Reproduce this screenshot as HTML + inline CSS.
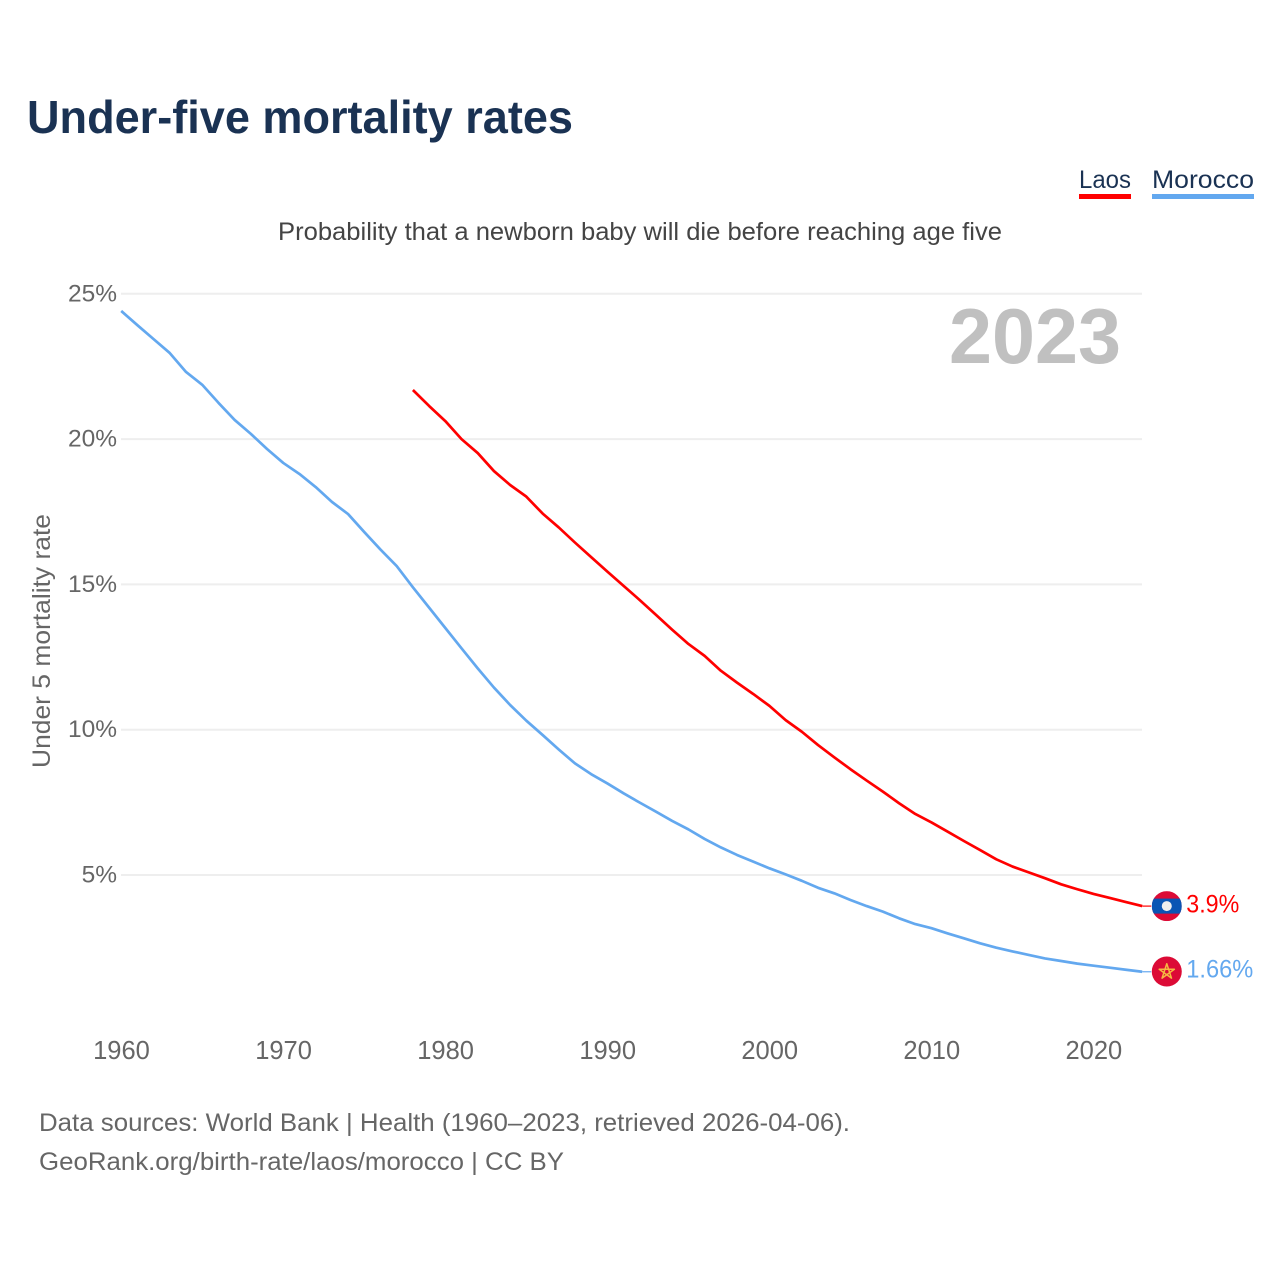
<!DOCTYPE html>
<html lang="en">
<head>
<meta charset="utf-8">
<title>Under-five mortality rates</title>
<style>
html,body{margin:0;padding:0;background:#fff}
svg{display:block}
text{font-family:"Liberation Sans",sans-serif}
</style>
</head>
<body>
<svg id="chart" xmlns="http://www.w3.org/2000/svg" width="1280" height="1280" viewBox="0 0 1280 1280">
<rect width="1280" height="1280" fill="#fff"/>
<text x="27" y="133" font-size="46" font-weight="700" fill="#1a3253" textLength="546" lengthAdjust="spacingAndGlyphs">Under-five mortality rates</text>
<g>
<g>
<text x="1079" y="188" font-size="25" fill="#1a3253" textLength="52" lengthAdjust="spacingAndGlyphs">Laos</text>
<rect x="1079" y="194" width="52" height="5" fill="#ff0000"/>
</g>
<g>
<text x="1152" y="188" font-size="25" fill="#1a3253" textLength="102" lengthAdjust="spacingAndGlyphs">Morocco</text>
<rect x="1152" y="194" width="102" height="5" fill="#63a8ef"/>
</g>
</g>
<text x="278" y="240" font-size="25" fill="#444" textLength="724" lengthAdjust="spacingAndGlyphs">Probability that a newborn baby will die before reaching age five</text>
<g id="grid"></g>
<g id="yaxis"></g>
<g id="xaxis"></g>
<text transform="translate(50,768) rotate(-90)" font-size="25" fill="#666" textLength="254" lengthAdjust="spacingAndGlyphs">Under 5 mortality rate</text>
<text x="949" y="363" font-size="78" font-weight="700" fill="#c0c0c0" textLength="172" lengthAdjust="spacingAndGlyphs">2023</text>
<g id="series"></g>
<g id="flags"></g>
<text x="39" y="1131" font-size="25" fill="#666" textLength="811" lengthAdjust="spacingAndGlyphs">Data sources: World Bank | Health (1960–2023, retrieved 2026-04-06).</text>
<text x="39" y="1170" font-size="25" fill="#666" textLength="525" lengthAdjust="spacingAndGlyphs">GeoRank.org/birth-rate/laos/morocco | CC BY</text>
</svg>
<script>
var years = [1960,1961,1962,1963,1964,1965,1966,1967,1968,1969,1970,1971,1972,1973,1974,1975,1976,1977,1978,1979,1980,1981,1982,1983,1984,1985,1986,1987,1988,1989,1990,1991,1992,1993,1994,1995,1996,1997,1998,1999,2000,2001,2002,2003,2004,2005,2006,2007,2008,2009,2010,2011,2012,2013,2014,2015,2016,2017,2018,2019,2020,2021,2022,2023];
var moroccoValues = [24.41,23.92,23.44,22.96,22.31,21.87,21.25,20.66,20.18,19.66,19.18,18.8,18.35,17.84,17.42,16.8,16.2,15.63,14.9,14.2,13.5,12.8,12.11,11.45,10.85,10.31,9.82,9.32,8.84,8.47,8.15,7.81,7.49,7.18,6.86,6.57,6.24,5.95,5.69,5.46,5.23,5.02,4.8,4.56,4.37,4.14,3.93,3.74,3.51,3.31,3.17,2.99,2.82,2.65,2.5,2.37,2.25,2.13,2.04,1.95,1.88,1.81,1.74,1.67];
var laosValues = [null,null,null,null,null,null,null,null,null,null,null,null,null,null,null,null,null,null,21.69,21.14,20.62,20.0,19.52,18.9,18.42,18.02,17.44,16.96,16.44,15.94,15.44,14.95,14.46,13.95,13.44,12.95,12.54,12.03,11.62,11.23,10.82,10.33,9.93,9.47,9.05,8.64,8.25,7.87,7.47,7.1,6.81,6.49,6.17,5.86,5.54,5.29,5.09,4.89,4.68,4.51,4.35,4.21,4.07,3.93];
var xTickYears = [1960,1970,1980,1990,2000,2010,2020];
var yTickValues = [5,10,15,20,25];
var laosLabel = '3.9%';
var moroccoLabel = '1.66%';

var NS = 'http://www.w3.org/2000/svg';
function xScale(year){ return 121.2 + (year - 1960) * 16.206; }
function yScale(v){ return 1020.3 - v * 29.06; }
function make(parent, tag, attrs, text){
  var el = document.createElementNS(NS, tag);
  for (var k in attrs) el.setAttribute(k, attrs[k]);
  if (text !== undefined) el.textContent = text;
  parent.appendChild(el);
  return el;
}
var grid = document.getElementById('grid');
var yaxis = document.getElementById('yaxis');
var xaxis = document.getElementById('xaxis');
var series = document.getElementById('series');
var flags = document.getElementById('flags');

yTickValues.forEach(function(v){
  var line = make(grid, 'line', {x1:121, x2:1142, y1:yScale(v), y2:yScale(v), stroke:'#eeeeee', 'stroke-width':2});
  
  
  var t = make(yaxis, 'text', {x:117, y:yScale(v)+7.5, 'text-anchor':'end', 'font-size':24.5, fill:'#666'}, v + '%');
  
  
});
xTickYears.forEach(function(y){
  var t = make(xaxis, 'text', {x:xScale(y)+0.3, y:1059, 'text-anchor':'middle', 'font-size':25.5, fill:'#666'}, String(y));
  
  
});

function linePoints(values){
  var pts = [];
  for (var i = 0; i < years.length; i++){
    if (values[i] === null) continue;
    pts.push(xScale(years[i]).toFixed(2) + ',' + yScale(values[i]).toFixed(2));
  }
  return pts.join(' ');
}
var morocco = make(series, 'polyline', {points:linePoints(moroccoValues), fill:'none', stroke:'#63a8ef', 'stroke-width':2.7, 'stroke-linejoin':'round'});


var laos = make(series, 'polyline', {points:linePoints(laosValues), fill:'none', stroke:'#ff0000', 'stroke-width':2.7, 'stroke-linejoin':'round'});



var lastX = xScale(years[years.length - 1]);
var flagX = lastX + 24.6;

// Laos end marker
var laosY = yScale(laosValues[laosValues.length - 1]);
var laosStub = make(flags, 'line', {x1:lastX, x2:lastX+9, y1:laosY, y2:laosY, stroke:'#ff0000', 'stroke-width':1.2});


var clipL = make(flags, 'clipPath', {id:'clip-laos'});
make(clipL, 'circle', {cx:flagX, cy:laosY, r:15});
var laosFlag = make(flags, 'g', {'clip-path':'url(#clip-laos)'});


make(laosFlag, 'rect', {x:flagX-15, y:laosY-15, width:30, height:30, fill:'#dc0b36'});
make(laosFlag, 'rect', {x:flagX-15, y:laosY-7.5, width:30, height:15, fill:'#0a55b4'});
make(laosFlag, 'circle', {cx:flagX, cy:laosY, r:5, fill:'#eeeeee'});
var laosText = make(flags, 'text', {x:flagX+19.5, y:laosY+6.5, 'font-size':25, fill:'#ff0000', textLength:53, lengthAdjust:'spacingAndGlyphs'}, laosLabel);



// Morocco end marker
var morY = yScale(moroccoValues[moroccoValues.length - 1]);
var morStub = make(flags, 'line', {x1:lastX, x2:lastX+9, y1:morY, y2:morY, stroke:'#63a8ef', 'stroke-width':1.2});


var morFlag = make(flags, 'g', {});


make(morFlag, 'circle', {cx:flagX, cy:morY-0.3, r:15, fill:'#dc0b36'});
make(morFlag, 'path', {d:'M0,-8 L4.7,6.4 L-7.6,-2.5 L7.6,-2.5 L-4.7,6.4 Z', transform:'translate('+flagX+','+morY+')', fill:'none', stroke:'#f5b942', 'stroke-width':1.5, 'stroke-linejoin':'round'});
var morText = make(flags, 'text', {x:flagX+19.5, y:morY+5.5, 'font-size':25, fill:'#63a8ef', textLength:67, lengthAdjust:'spacingAndGlyphs'}, moroccoLabel);


</script>
</body>
</html>
